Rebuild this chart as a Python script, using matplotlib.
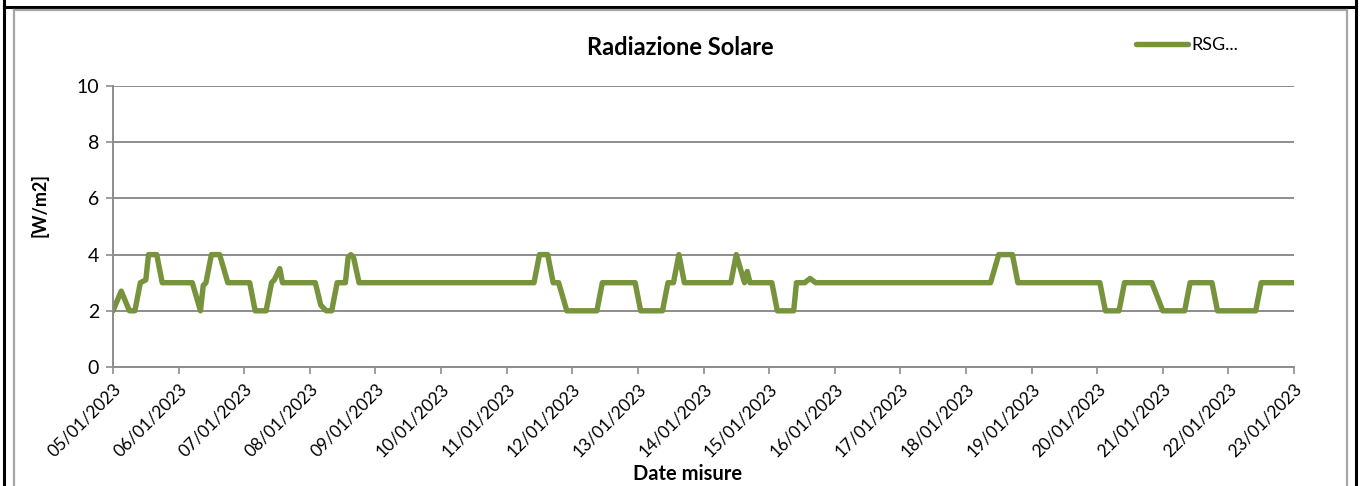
import numpy as np
import pandas as pd
import matplotlib
matplotlib.use("Agg")
import matplotlib.pyplot as plt
import matplotlib.dates as mdates
from matplotlib.lines import Line2D

plt.rcParams['font.family'] = ['Lato', 'DejaVu Sans']

# data: hours since 05/01/2023 00:00 and value [W/m2]
start_date = "2023-01-05"
hours = [0, 3, 6, 8, 10, 12, 13, 16, 18,
         29, 32, 33, 34, 36, 39, 42,
         50, 52, 56, 58, 59, 61, 62,
         74, 76, 78, 80, 82, 85, 86, 87, 88, 90,
         154, 156, 159, 161, 163, 166, 177, 179,
         191, 193, 201, 203, 205, 207, 209,
         226, 228, 231, 232, 233, 241, 243, 249, 250, 253, 255, 257,
         321, 324, 329, 331,
         361, 363, 368, 370, 380, 384, 392, 394, 402, 404, 418, 420, 432]
rsg = [2, 2.7, 2, 2, 3, 3.1, 4, 4, 3,
       3, 2, 2.9, 3, 4, 4, 3,
       3, 2, 2, 3, 3.1, 3.5, 3,
       3, 2.2, 2.0, 2, 3, 3, 3.9, 4, 3.9, 3,
       3, 4, 4, 3, 3, 2, 2, 3,
       3, 2, 2, 3, 3, 4, 3,
       3, 4, 3, 3.4, 3, 3, 2, 2, 3, 3, 3.15, 3,
       3, 4, 4, 3,
       3, 2, 2, 3, 3, 2, 2, 3, 3, 2, 2, 3, 3]
tick_days = pd.date_range("2023-01-05", "2023-01-23", freq="D")

times = pd.to_datetime(start_date) + pd.to_timedelta(hours, unit="h")

W, H = 1362, 486
fig = plt.figure(figsize=(W / 100, H / 100), dpi=100)
ax = fig.add_axes([113 / W, 1 - 367 / H, (1294 - 113) / W, (367 - 86) / H])

ax.plot(times, rsg, color="#77933C", lw=3.9, solid_capstyle="round",
        solid_joinstyle="round", label="RSG...")

ax.set_xlim(tick_days[0], tick_days[-1])
ax.set_ylim(0, 10)
ax.set_yticks(np.arange(0, 11, 2))
ax.set_xticks(tick_days)
ax.xaxis.set_major_formatter(mdates.DateFormatter("%d/%m/%Y"))
ax.grid(axis="y", color="#8c8c8c", lw=1.4)
ax.set_axisbelow(True)
for s in ["top", "right"]:
    ax.spines[s].set_visible(False)
for s in ["left", "bottom"]:
    ax.spines[s].set_color("#8c8c8c")
    ax.spines[s].set_linewidth(1.4)
ax.tick_params(axis="both", colors="#8c8c8c", length=5, width=1.2,
               labelcolor="black")
ax.tick_params(axis="y", labelsize=14, pad=5)
ax.tick_params(axis="x", labelsize=12.5, pad=5)
plt.setp(ax.get_xticklabels(), rotation=45, ha="right", va="top",
         rotation_mode="anchor")

fig.text(40 / W, 1 - 205 / H, "[W/m2]", ha="center", va="center",
         rotation=90, fontsize=13, fontweight="bold")
fig.text(688 / W, 1 - 474 / H, "Date misure", ha="center", va="center",
         fontsize=14.5, fontweight="bold")
fig.text(680 / W, 1 - 47 / H, "Radiazione Solare", ha="center", va="center",
         fontsize=17, fontweight="bold")

ax.legend(loc="center left", bbox_to_anchor=(1127 / W, 1 - 45 / H),
          bbox_transform=fig.transFigure, frameon=False, fontsize=13,
          handlelength=2.9, handletextpad=0.15, borderpad=0)

# frame lines round the chart
def px_line(x0, y0, x1, y1, color, lw):
    fig.add_artist(Line2D([x0 / W, x1 / W], [1 - y0 / H, 1 - y1 / H],
                          transform=fig.transFigure, color=color, lw=lw))

px_line(4, 0, 4, H, "black", 2.2)
px_line(1356, 0, 1356, H, "black", 2.2)
px_line(4, 7.5, 1356, 7.5, "black", 2.2)
px_line(14, 10, 14, H, "#a6a6a6", 1.6)
px_line(1347, 10, 1347, H, "#a6a6a6", 1.6)
px_line(14, 10, 1347, 10, "#a6a6a6", 1.6)

fig.savefig("out.png", dpi=100)
